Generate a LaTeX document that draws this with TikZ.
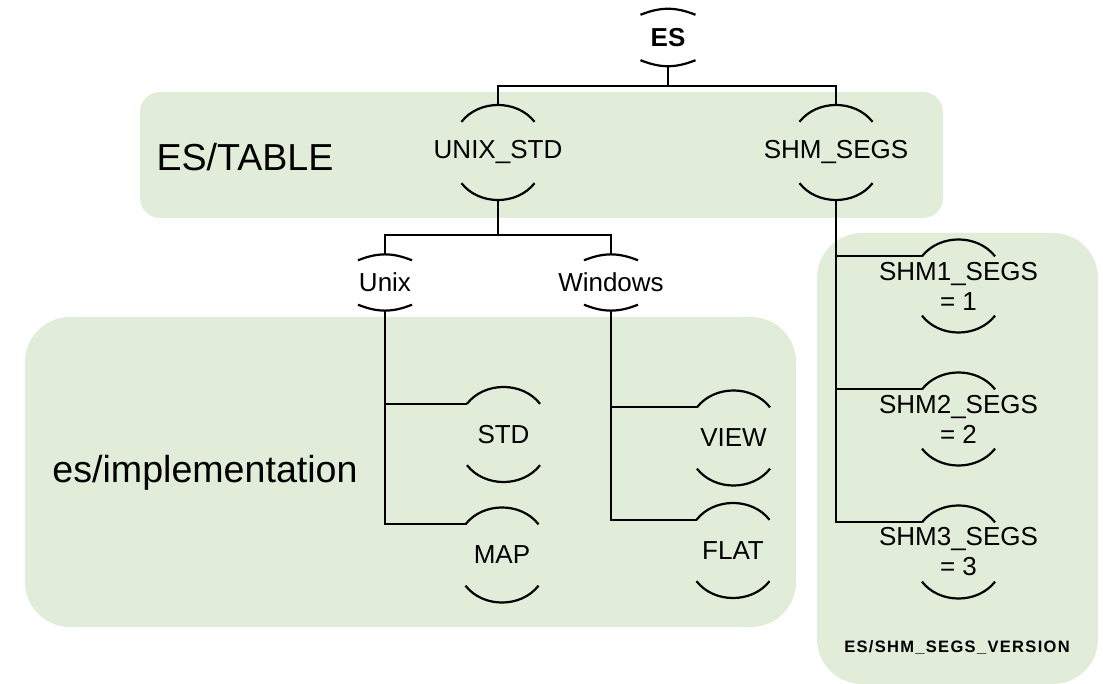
\documentclass[tikz,border=0pt]{standalone}
\usepackage{fontspec}
\setmainfont{Liberation Sans}
\usepackage{xcolor}
\usepackage{tikz}
\usetikzlibrary{calc}
\definecolor{groupgreen}{RGB}{225,236,217}
\tikzstyle{conn} = [draw=black, line width=2.2pt]
\tikzstyle{feat} = [inner sep=0pt, minimum width=73pt, minimum height=95pt,
align=center, font=\fontsize{26}{30}\selectfont]
\tikzstyle{smallfeat} = [feat, minimum width=55pt, minimum height=56pt]
\tikzstyle{grouptitle} = [inner sep=0pt, font=\fontsize{37.6}{40}\selectfont]
\newcommand{\featarcs}[4]{%
\draw [conn] ($(#1.north)+(-#2,-#3)$) coordinate (#1-in)
    to[bend left=#4] ($(#1.north)+(#2,-#3)$);
\draw [conn] ($(#1.south)+(-#2,#3)$)
    to[bend right=#4] ($(#1.south)+(#2,#3)$);
}

\begin{document}
\begin{tikzpicture}[x=1pt, y=1pt]
        \useasboundingbox (0,0) rectangle (1103,-684);
        % groups
        \fill [groupgreen, rounded corners=20pt] (140,-92) rectangle (943,-218);
        \fill [groupgreen, rounded corners=45pt] (25,-317) rectangle (796,-627);
        \fill [groupgreen, rounded corners=45pt] (817,-233) rectangle (1098,-684);
        \node [grouptitle] (tabletitle) at (245,-157) {ES/TABLE};
        \node [grouptitle] (impltitle) at (205,-473) {es/implementation};
        \node [inner sep=0pt, font=\fontsize{16.5}{18}\bfseries\addfontfeature{LetterSpace=8}]
            (versiontitle) at (957,-648) {ES/SHM\_SEGS\_VERSION};
        % features
        \node [smallfeat, minimum height=57pt, font=\fontsize{26}{30}\bfseries] (es) at (668,-37.5) {ES};
        \node [feat] (unixstd) at (498,-152.5) {UNIX\_STD};
        \node [feat] (shmsegs) at (836,-152.5) {SHM\_SEGS};
        \node [smallfeat] (unix) at (385,-282.5) {Unix};
        \node [smallfeat] (windows) at (611,-282.5) {Windows};
        \node [feat] (std) at (503.5,-434.5) {STD};
        \node [feat] (map) at (502,-555) {MAP};
        \node [feat] (view) at (733.5,-438) {VIEW};
        \node [feat] (flat) at (733,-550.5) {FLAT};
        \node [feat, minimum height=93pt] (shm1) at (958.5,-286) {SHM1\_SEGS\\= 1};
        \node [feat, minimum height=93pt] (shm2) at (958.5,-419) {SHM2\_SEGS\\= 2};
        \node [feat, minimum height=93pt] (shm3) at (958.5,-552) {SHM3\_SEGS\\= 3};
        \featarcs{es}{27.5}{6}{22}
        \featarcs{unix}{27}{6}{22}
        \featarcs{windows}{27}{6}{22}
        \foreach \f in {unixstd,shmsegs,std,map,view,flat,shm1,shm2,shm3}
            {\featarcs{\f}{36.5}{17}{52}}
        % connectors
        \draw [conn] (es.south) -- ++(0,-20) coordinate (esbar) -| (unixstd.north);
        \draw [conn] (esbar) -| (shmsegs.north);
        \draw [conn] (unixstd.south) -- ++(0,-35) coordinate (osbar) -| (unix.north);
        \draw [conn] (osbar) -| (windows.north);
        \draw [conn] (unix.south) |- (map-in);
        \draw [conn] (unix.south |- std-in) -- (std-in);
        \draw [conn] (windows.south) |- (flat-in);
        \draw [conn] (windows.south |- view-in) -- (view-in);
        \draw [conn] (shmsegs.south) |- (shm3-in);
        \draw [conn] (shmsegs.south |- shm1-in) -- (shm1-in);
        \draw [conn] (shmsegs.south |- shm2-in) -- (shm2-in);
    \end{tikzpicture}
\end{document}
